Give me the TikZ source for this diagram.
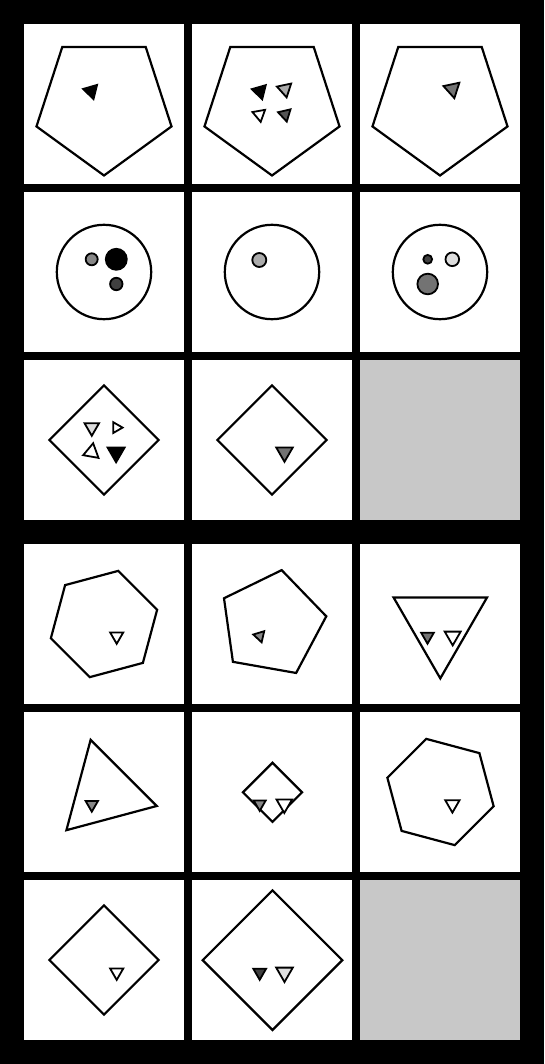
\documentclass[tikz,border=0pt]{standalone}
\definecolor{gLight}{gray}{0.87}
\definecolor{gLA}{gray}{0.67}
\definecolor{gMid}{gray}{0.53}
\definecolor{gMD}{gray}{0.45}
\definecolor{gDark}{gray}{0.33}
\definecolor{gVD}{gray}{0.25}
\definecolor{gBlank}{gray}{0.784}
\tikzset{
  bigshape/.style={draw=black,line width=2.2pt,line join=miter,fill=white},
  smallshape/.style={draw=black,line width=1.8pt,line join=miter},
  cellbg/.style={fill=white},
  blankcell/.style={fill=gBlank},
}
\newcommand{\rpoly}[6][]{%
  \pgfmathtruncatemacro\rpn{#6-1}%
  \draw[#1] plot[domain=0:\rpn, samples=#6, variable=\t]
    ({#2+(#4)*cos(#5+360*\t/#6)},{#3-(#4)*sin(#5+360*\t/#6)}) -- cycle;}
\newcommand{\stri}[5]{\rpoly[smallshape,fill=#5]{#1}{#2}{#3+0.6}{#4}{3}}
\newcommand{\sdot}[4]{\draw[smallshape,fill=#4] (#1,#2) circle[radius=#3];}
\begin{document}
\begin{tikzpicture}[x=1pt,y=-1pt]
\fill[black] (0,0) rectangle (544,1064);
\useasboundingbox (0,0) rectangle (544,1064);
% cell backgrounds
\foreach \cx in {24,192,360}{
  \foreach \cy in {24,192,360,544,712,880}{
    \fill[cellbg] (\cx,\cy) rectangle ++(160,160);
  }
}
\fill[blankcell] (360,360) rectangle ++(160,160);
\fill[blankcell] (360,880) rectangle ++(160,160);

% ---------- Row 1: pentagons ----------
\begin{scope}[shift={(24,24)}]
  \rpoly[bigshape]{80}{80.5}{71}{270}{5}
  \stri{67.2}{67}{7.8}{46}{black}
\end{scope}
\begin{scope}[shift={(192,24)}]
  \rpoly[bigshape]{80}{80.5}{71}{270}{5}
  \stri{67.9}{67.2}{7.8}{46}{black}
  \stri{92.9}{65.2}{7.8}{42}{gLA}
  \stri{67.4}{90.6}{6.8}{40}{white}
  \stri{93.1}{90.4}{6.8}{43}{gDark}
\end{scope}
\begin{scope}[shift={(360,24)}]
  \rpoly[bigshape]{80}{80.5}{71}{270}{5}
  \stri{92.4}{65}{8.8}{42}{gMD}
\end{scope}

% ---------- Row 2: circles ----------
\begin{scope}[shift={(24,192)}]
  \draw[bigshape] (80,80) circle[radius=47.2];
  \sdot{67.7}{67.3}{6}{gMid}
  \sdot{92.3}{67.3}{10.5}{black}
  \sdot{92.3}{92}{6.2}{gVD}
\end{scope}
\begin{scope}[shift={(192,192)}]
  \draw[bigshape] (80,80) circle[radius=47.2];
  \sdot{67.3}{68}{7}{gLA}
\end{scope}
\begin{scope}[shift={(360,192)}]
  \draw[bigshape] (80,80) circle[radius=47.2];
  \sdot{67.7}{67.3}{4.4}{gVD}
  \sdot{92.3}{67.3}{6.8}{gLight}
  \sdot{67.7}{92}{10.3}{gMD}
\end{scope}

% ---------- Row 3: diamonds ----------
\begin{scope}[shift={(24,360)}]
  \rpoly[bigshape]{80}{80}{54.6}{90}{4}
  \stri{67.8}{67.4}{7.8}{270}{gLight}
  \stri{92.4}{67.6}{5.6}{0}{white}
  \stri{67.6}{92.1}{8.4}{80}{white}
  \stri{92.1}{92.4}{9.3}{270}{black}
\end{scope}
\begin{scope}[shift={(192,360)}]
  \rpoly[bigshape]{80}{80}{54.6}{90}{4}
  \stri{92.5}{92.2}{9}{270}{gMD}
\end{scope}

% ---------- Row 4 ----------
\begin{scope}[shift={(24,544)}]
  \rpoly[bigshape]{80}{80}{55}{75}{6}
  \stri{92.7}{92.2}{7}{270}{white}
\end{scope}
\begin{scope}[shift={(192,544)}]
  \rpoly[bigshape]{80.2}{79.9}{54.6}{80}{5}
  \stri{67.7}{92}{6}{47}{gMid}
\end{scope}
\begin{scope}[shift={(360,544)}]
  \rpoly[bigshape]{80.3}{80.4}{54}{270}{3}
  \stri{67.5}{92.4}{6.7}{270}{gMD}
  \stri{92.7}{92.2}{8.6}{270}{white}
\end{scope}

% ---------- Row 5 ----------
\begin{scope}[shift={(24,712)}]
  \rpoly[bigshape]{80.6}{80}{54}{105}{3}
  \stri{67.8}{92.6}{6.5}{270}{gMid}
\end{scope}
\begin{scope}[shift={(192,712)}]
  \rpoly[bigshape]{80.5}{80.3}{29.6}{90}{4}
  \stri{67.7}{92}{6.3}{270}{gMid}
  \stri{92.3}{92}{8.4}{270}{white}
\end{scope}
\begin{scope}[shift={(360,712)}]
  \rpoly[bigshape]{80.5}{80}{55}{105}{6}
  \stri{92.4}{92.4}{7.6}{270}{white}
\end{scope}

% ---------- Row 6 ----------
\begin{scope}[shift={(24,880)}]
  \rpoly[bigshape]{80}{80}{54.6}{90}{4}
  \stri{92.7}{92.3}{7}{270}{white}
\end{scope}
\begin{scope}[shift={(192,880)}]
  \rpoly[bigshape]{80.5}{80.2}{69.8}{90}{4}
  \stri{67.7}{92.4}{6.8}{270}{gVD}
  \stri{92.5}{92.4}{9}{270}{gLight}
\end{scope}
\end{tikzpicture}
\end{document}
